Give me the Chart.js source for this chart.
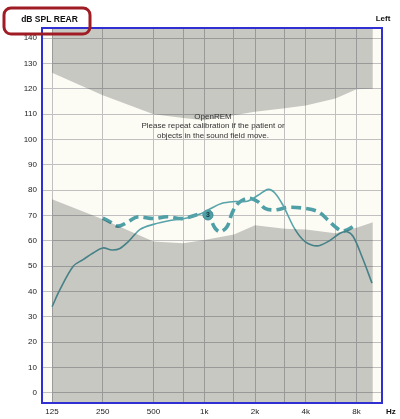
<!DOCTYPE html>
<html><head><meta charset="utf-8">
<script src="https://cdn.jsdelivr.net/npm/chart.js@4.4.1/dist/chart.umd.min.js"></script>
<style>html,body{margin:0;padding:0;background:#fff;}#wrap{width:400px;height:419px;position:relative;}</style>
</head><body><div id="wrap"><canvas id="c" width="400" height="419"></canvas></div>
<script>
// ---- data ----
const xTickValues = [125, 250, 500, 750, 1000, 1500, 2000, 3000, 4000, 6000, 8000];
const xTickLabels = ['125', '250', '500', '', '1k', '', '2k', '', '4k', '', '8k'];
const yTickValues = [0, 10, 20, 30, 40, 50, 60, 70, 80, 90, 100, 110, 120, 130, 140];

const limitFreq = [125, 250, 500, 750, 1000, 1500, 2000, 3000, 4000, 6000, 8000, 10000];
const upperLimit = [126.3, 117.5, 110, 108.5, 107.6, 109.6, 110.9, 112.3, 113.4, 116.2, 119.8, 120];
const lowerLimit = [76.4, 68.5, 59.7, 59, 60.3, 62.5, 66.2, 64.8, 64.5, 63, 65.2, 67.3];

const solidFreq = [125, 139, 167, 191, 219, 250, 284, 316, 358, 416, 500, 627, 790, 944, 1052, 1275, 1520, 1800, 2084, 2400, 2629, 2932, 3455, 3959, 4666, 5420, 6386, 7026, 7627, 8623, 9885];
const solidDb = [34, 40.6, 50, 52.6, 55.2, 57.2, 56.4, 57, 60, 64.5, 66.5, 68, 69, 70.6, 72.2, 74.8, 75.5, 75.6, 78, 80.3, 78.8, 74, 64.5, 59.7, 58, 59.7, 63, 63.6, 61.8, 53.7, 43.3];

const dashedFreq = [250, 276, 308, 353, 399, 500, 601, 748, 944, 1052, 1158, 1240, 1364, 1461, 1586, 1818, 2084, 2293, 2629, 3139, 3959, 4730, 5420, 5963, 6560, 7124, 7835];
const dashedDb = [69, 67.5, 65.8, 67.5, 69.4, 68.8, 69.5, 68.8, 70.6, 70.2, 65, 63.6, 65.6, 70.9, 74.8, 76.8, 75.4, 72.8, 72.2, 73.2, 72.8, 71.5, 68.2, 65.6, 63.9, 64.5, 66.2];

const markerFreq = [1052];
const markerDb = [70.2];
const markerLabels = ['3'];

const noteLines = ['OpenREM', 'Please repeat calibration if the patient or', 'objects in the sound field move.'];
const cornerTitle = 'dB SPL REAR';
const sideLabel = 'Left';
const unitLabel = 'Hz';

// ---- build ----
const pts = (xs, ys) => xs.map((x, i) => ({x: x, y: ys[i]}));
const SHADE = 'rgba(0,0,0,0.205)';
const TEAL = '#58a3aa';

const deco = {
  id: 'deco',
  beforeDraw(chart) {
    const {ctx, chartArea: a} = chart;
    ctx.save();
    ctx.fillStyle = '#ffffff';
    ctx.fillRect(0, 0, chart.width, chart.height);
    ctx.fillStyle = '#fcfbf4';
    ctx.fillRect(a.left, a.top, a.right - a.left, a.bottom - a.top);
    ctx.restore();
  },
  afterDraw(chart) {
    const {ctx, chartArea: a} = chart;
    ctx.save();
    // blue frame
    ctx.strokeStyle = '#2f2fd2';
    ctx.lineWidth = 2;
    ctx.strokeRect(a.left, a.top, a.right - a.left, a.bottom - a.top);
    // note text
    ctx.fillStyle = '#333333';
    ctx.font = '8px "Liberation Sans", Arial, sans-serif';
    ctx.textAlign = 'center';
    ctx.textBaseline = 'middle';
    const cx = 213;
    noteLines.forEach((t, i) => ctx.fillText(t, cx, 117 + i * 9.2));
    // corner title with red rounded box
    ctx.strokeStyle = '#a01c24';
    ctx.lineWidth = 3;
    ctx.beginPath();
    ctx.roundRect(4, 8, 86, 26, 7);
    ctx.stroke();
    ctx.fillStyle = '#111111';
    ctx.font = 'bold 8.5px "Liberation Sans", Arial, sans-serif';
    ctx.fillText(cornerTitle, 49.5, 20);
    ctx.font = 'bold 8px "Liberation Sans", Arial, sans-serif';
    ctx.fillText(sideLabel, 383, 19);
    ctx.textAlign = 'left';
    ctx.fillText(unitLabel, 386, 412);
    // marker labels
    const meta = chart.getDatasetMeta(4);
    ctx.textAlign = 'center';
    ctx.fillStyle = '#12343a';
    ctx.font = 'bold 7px "Liberation Sans", Arial, sans-serif';
    meta.data.forEach((el, i) => ctx.fillText(markerLabels[i], el.x, el.y + 0.5));
    ctx.restore();
  }
};

new Chart(document.getElementById('c'), {
  type: 'line',
  data: {
    datasets: [
      {data: pts(limitFreq, upperLimit), fill: 'end', backgroundColor: SHADE, borderWidth: 0, pointRadius: 0, tension: 0},
      {data: pts(limitFreq, lowerLimit), fill: 'start', backgroundColor: SHADE, borderWidth: 0, pointRadius: 0, tension: 0},
      {data: pts(solidFreq, solidDb), fill: false, borderColor: TEAL, borderWidth: 1.6, pointRadius: 0, tension: 0.35},
      {data: pts(dashedFreq, dashedDb), fill: false, borderColor: '#4f9fa7', borderWidth: 3.6, borderDash: [10, 5], pointRadius: 0, tension: 0.35},
      {data: pts(markerFreq, markerDb), showLine: false, pointRadius: 5, pointBackgroundColor: '#4e9ea5', pointBorderColor: '#3c8d94', pointBorderWidth: 1}
    ]
  },
  options: {
    responsive: false,
    animation: false,
    devicePixelRatio: 1,
    layout: {padding: {left: 0, top: 28, right: 18, bottom: 0}},
    plugins: {legend: {display: false}, tooltip: {enabled: false}},
    scales: {
      x: {
        type: 'logarithmic', min: 109, max: 11330,
        afterBuildTicks: s => { s.ticks = xTickValues.map(v => ({value: v})); },
        afterFit: s => { s.height = 16; },
        ticks: {autoSkip: false, maxRotation: 0, minRotation: 0, padding: 4, color: '#222',
          font: {family: '"Liberation Sans", Arial, sans-serif', size: 8},
          callback: (v, i) => xTickLabels[i]},
        grid: {color: '#c0c0c0', lineWidth: 1, drawTicks: false},
        border: {display: false}
      },
      y: {
        type: 'linear', min: -4, max: 144,
        afterBuildTicks: s => { s.ticks = yTickValues.map(v => ({value: v})); },
        afterFit: s => { s.width = 42; },
        ticks: {padding: 5, color: '#222', font: {family: '"Liberation Sans", Arial, sans-serif', size: 8}},
        grid: {color: '#c0c0c0', lineWidth: 1, drawTicks: false},
        border: {display: false}
      }
    }
  },
  plugins: [deco]
});
</script></body></html>
